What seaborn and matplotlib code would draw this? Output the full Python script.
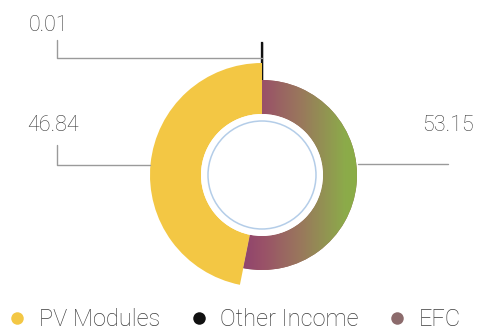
import numpy as np
import matplotlib
matplotlib.use("Agg")
import matplotlib.pyplot as plt
from matplotlib.colors import LinearSegmentedColormap
from matplotlib.lines import Line2D
from matplotlib.patches import Circle
import seaborn as sns

# Revenue split (%)
categories = ["PV Modules", "Other Income", "EFC"]
shares = [46.84, 0.01, 53.15]
value_labels = ["46.84", "0.01", "53.15"]

sns.set_theme(style="white")
plt.rcParams["font.family"] = ["Roboto", "DejaVu Sans"]

W, H = 480, 333
fig = plt.figure(figsize=(W / 100, H / 100), dpi=100)
ax = fig.add_axes([0, 0, 1, 1])

cx, cy = 262, H - 175
yellow = "#f3c744"
line_col = "#9a9a9a"
text_col = "#3c3c3c"

# drawing order: Other Income at 12 o'clock, EPC clockwise on the right, PV on the left
order = [1, 2, 0]
wedges, _ = ax.pie([shares[i] for i in order], startangle=90, counterclock=False,
                   center=(cx, cy), radius=100, frame=True,
                   colors=["#111111", "#9a6a5e", yellow],
                   wedgeprops=dict(linewidth=0))
w_other, w_epc, w_pv = wedges

inner_r = 61
w_pv.set_radius(112)
w_pv.set_width(112 - inner_r)
w_epc.set_radius(95)
w_epc.set_width(95 - inner_r)
w_other.set_radius(132)
w_other.set_width(132 - inner_r)
w_other.set_edgecolor("#111111")
w_other.set_linewidth(1.6)

# horizontal colour gradient across the EPC ring
grad_cmap = LinearSegmentedColormap.from_list(
    "epc", [(0.0, "#8a3b70"), (0.25, "#9a5268"), (0.55, "#99785c"), (0.9, "#8cab4a"),
            (1.0, "#8aad46")])
gx = np.linspace(0, 1, 256)[None, :]
img = ax.imshow(gx, cmap=grad_cmap, aspect="auto",
                extent=(cx - 30, cx + 96, cy - 96, cy + 96), zorder=2)
img.set_clip_path(w_epc)

ax.set_xlim(0, W)
ax.set_ylim(0, H)
ax.set_aspect("equal")
ax.axis("off")

# centre disc with thin blue ring
ax.add_patch(Circle((cx, cy), inner_r, facecolor="white", edgecolor="none", zorder=3))
ax.add_patch(Circle((cx, cy), 54, facecolor="white", edgecolor="#b4cde8",
                    linewidth=1.1, zorder=4))

# leader lines and value labels
ax.plot([57, 57, cx], [H - 40, H - 58, H - 58], color=line_col, lw=1, zorder=1)
ax.plot([57, 57, 150], [H - 145, H - 165, H - 165], color=line_col, lw=1, zorder=1)
ax.plot([358, 448], [H - 164, H - 164], color=line_col, lw=1, zorder=1)

fs = 15.5
ax.text(29, H - 31, value_labels[1], fontsize=fs, color=text_col, va="baseline", ha="left",
        fontweight="light")
ax.text(27, H - 131, value_labels[0], fontsize=fs, color=text_col, va="baseline", ha="left",
        fontweight="light")
ax.text(474, H - 131, value_labels[2], fontsize=fs, color=text_col, va="baseline", ha="right",
        fontweight="light")

# legend row
legend_colors = [yellow, "#111111", "#8c6b6c"]
handles = [Line2D([], [], marker="o", linestyle="none", markersize=9,
                  markerfacecolor=c, markeredgecolor="none") for c in legend_colors]
leg = ax.legend(handles, categories, loc="lower left", bbox_to_anchor=(9 / W, 0.006),
                ncol=3, frameon=False, fontsize=17, handletextpad=0.55,
                columnspacing=1.3, handlelength=0.7, borderaxespad=0, borderpad=0)
for t in leg.get_texts():
    t.set_color(text_col)
    t.set_fontweight("light")

fig.savefig("out.png", dpi=100)
